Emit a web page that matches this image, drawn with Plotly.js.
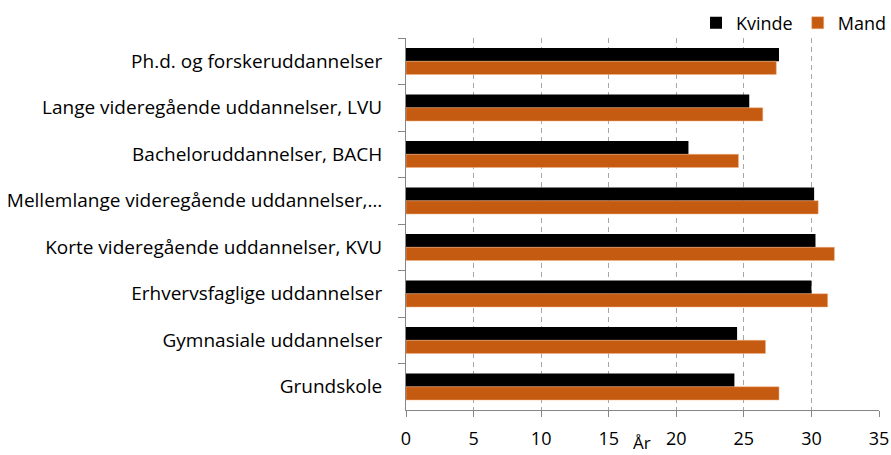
<!DOCTYPE html>
<html>
<head>
<meta charset="utf-8">
<script src="https://cdn.plot.ly/plotly-3.0.1.min.js"></script>
<style>html,body{margin:0;padding:0;background:#fff}#chart{width:891px;height:455px}</style>
</head>
<body>
<div id="chart"></div>
<script>
var categories = [
  "Ph.d. og forskeruddannelser",
  "Lange videregående uddannelser, LVU",
  "Bacheloruddannelser, BACH",
  "Mellemlange videregående uddannelser,…",
  "Korte videregående uddannelser, KVU",
  "Erhvervsfaglige uddannelser",
  "Gymnasiale uddannelser",
  "Grundskole"
];
var kvinde = [27.6, 25.4, 20.9, 30.2, 30.3, 30.0, 24.5, 24.3];
var mand   = [27.4, 26.4, 24.6, 30.5, 31.7, 31.2, 26.6, 27.6];
var xTicks = [0, 5, 10, 15, 20, 25, 30, 35];

var FONT = "'Open Sans', sans-serif";
var data = [
  {type: "bar", orientation: "h", name: "Kvinde", y: categories, x: kvinde,
   marker: {color: "#000000"}},
  {type: "bar", orientation: "h", name: "Mand", y: categories, x: mand,
   marker: {color: "#C55A11", line: {color: "#F4B183", width: 0.5}}}
];
var layout = {
  width: 891, height: 455,
  margin: {l: 406, r: 12, t: 38, b: 45, autoexpand: false},
  paper_bgcolor: "#fff", plot_bgcolor: "#fff",
  barmode: "group", bargap: 0.43, bargroupgap: 0,
  font: {family: FONT, size: 18, color: "#000"},
  showlegend: true,
  legend: {orientation: "h", xref: "container", yref: "container",
           x: 1.0, xanchor: "right", y: 0.99, yanchor: "top",
           font: {family: FONT, size: 18, color: "#000"}, itemwidth: 30, tracegroupgap: 0,
           bgcolor: "rgba(0,0,0,0)"},
  xaxis: {range: [0, 35], tickvals: xTicks, ticktext: xTicks.map(String),
          showgrid: true, gridcolor: "#A6A6A6", griddash: "5px,4px", gridwidth: 1,
          showline: true, linecolor: "#868686", linewidth: 1,
          ticks: "outside", ticklen: 6, tickcolor: "#868686", ticklabelstandoff: 6,
          zeroline: false, tickfont: {family: FONT, size: 18, color: "#000"}, fixedrange: true},
  yaxis: {autorange: "reversed", type: "category", showline: true, linecolor: "#868686", linewidth: 1,
          ticks: "outside", ticklen: 7, tickcolor: "#868686", tickson: "boundaries",
          showgrid: false, tickfont: {family: FONT, size: 19, color: "#000"}, ticklabelstandoff: 19},
  annotations: [{text: "År", xref: "paper", yref: "paper", x: (642 - 406) / 473, y: -0.088,
                 xanchor: "center", yanchor: "middle", showarrow: false,
                 font: {family: FONT, size: 17, color: "#000"}}]
};
Plotly.newPlot("chart", data, layout, {displayModeBar: false, staticPlot: true});
</script>
</body>
</html>
